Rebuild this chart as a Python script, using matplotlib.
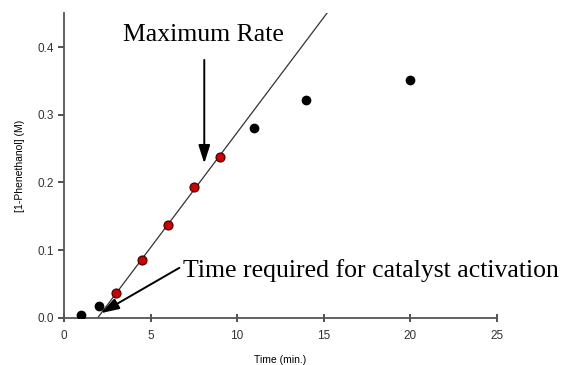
import numpy as np
import matplotlib.pyplot as plt

# concentration of 1-phenethanol over time
time_induction = [1, 2]
conc_induction = [0.005, 0.018]
time_linear = [3, 4.5, 6, 7.5, 9]
conc_linear = [0.037, 0.085, 0.137, 0.194, 0.237]
time_late = [11, 14, 20]
conc_late = [0.28, 0.322, 0.351]

plt.rcParams['font.family'] = ['Liberation Sans', 'DejaVu Sans']

# linear fit over the maximum rate region
slope, intercept = np.polyfit(time_linear, conc_linear, 1)
t0 = -intercept / slope
t_fit = np.array([t0, (0.45 - intercept) / slope])

fig = plt.figure(figsize=(5.63, 3.65), dpi=100)
ax = fig.add_axes([0.114, 0.129, 0.768, 0.835])

ax.plot(t_fit, slope * t_fit + intercept, color='#333333', lw=0.9, zorder=2)
ax.plot(time_induction + time_late, conc_induction + conc_late, 'o', color='black',
        ms=6, zorder=3)
ax.plot(time_linear, conc_linear, 'o', color='#cc0000', mec='#3a0000', mew=0.8,
        ms=6.5, zorder=3)

serif = 'Liberation Serif'
ax.text(8.05, 0.417, 'Maximum Rate', fontsize=18.5, family=serif, ha='center', va='center')
ax.annotate('', xy=(8.1, 0.224), xytext=(8.1, 0.385),
            arrowprops=dict(arrowstyle='-|>,head_length=1.1,head_width=0.35',
                            color='black', lw=1.4))
ax.text(6.85, 0.07, 'Time required for catalyst activation', fontsize=18.5,
        family=serif, ha='left', va='center')
ax.annotate('', xy=(t0 + 0.05, 0.005), xytext=(6.8, 0.076),
            arrowprops=dict(arrowstyle='-|>,head_length=1.1,head_width=0.35',
                            color='black', lw=1.4))

ax.set_xlim(0, 25)
ax.set_ylim(0, 0.45)
ax.set_xticks([0, 5, 10, 15, 20, 25])
ax.set_yticks([0.0, 0.1, 0.2, 0.3, 0.4])
ax.set_yticklabels(['0.0', '0.1', '0.2', '0.3', '0.4'])
ax.set_xlabel('Time (min.)', fontsize=7.5, labelpad=9)
ax.set_ylabel('[1-Phenethanol] (M)', fontsize=7.5, labelpad=9)
ax.tick_params(axis='both', labelsize=8.5, colors='#333333', width=1.2)
ax.tick_params(axis='x', direction='inout', length=6, pad=6)
ax.tick_params(axis='y', direction='out', length=4)
for side in ['top', 'right']:
    ax.spines[side].set_visible(False)
for side in ['left', 'bottom']:
    ax.spines[side].set_linewidth(1.3)
    ax.spines[side].set_color('#555555')

plt.savefig('out.png', dpi=100)
